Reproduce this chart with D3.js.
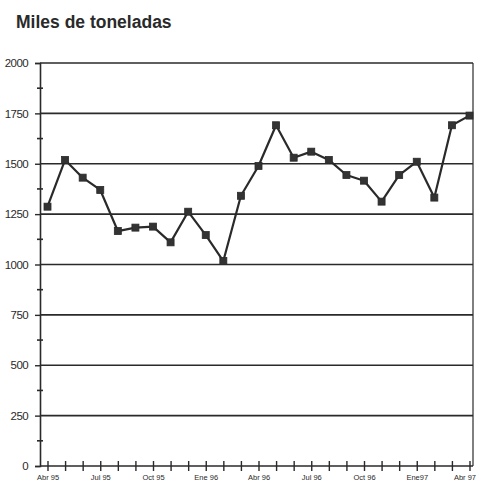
<!DOCTYPE html>
<html><head><meta charset="utf-8">
<script src="https://cdn.jsdelivr.net/npm/d3@7/dist/d3.min.js"></script>
<style>body{margin:0;background:#fff}</style>
</head><body>
<svg id="c" width="477" height="485"></svg>
<script>
const months = ["Abr 95","May 95","Jun 95","Jul 95","Ago 95","Sep 95","Oct 95","Nov 95","Dic 95","Ene 96","Feb 96","Mar 96","Abr 96","May 96","Jun 96","Jul 96","Ago 96","Sep 96","Oct 96","Nov 96","Dic 96","Ene97","Feb 97","Mar 97","Abr 97"];
const values = [1287,1519,1431,1370,1166,1183,1188,1110,1262,1146,1017,1341,1489,1691,1530,1560,1519,1444,1416,1312,1444,1510,1332,1691,1739];
const labeledMonths = ["Abr 95","Jul 95","Oct 95","Ene 96","Abr 96","Jul 96","Oct 96","Ene97","Abr 97"];
const yTicks = [0,250,500,750,1000,1250,1500,1750,2000];
const yMinor = [125,375,625,875,1125,1375,1625,1875];
const title = "Miles de toneladas";

const svg = d3.select("#c");
const ink = "#2a2a2a";
const L = 40, R = 473, T = 63, B = 466;
const x = d3.scalePoint().domain(months).range([47.5, 469.5]);
const y = d3.scaleLinear().domain([0,2000]).range([B, T]);

svg.append("text").attr("x",16).attr("y",28).attr("font-family","Arial, Liberation Sans, sans-serif")
  .attr("font-weight","bold").attr("font-size",17.5).attr("fill",ink).text(title);

// gridlines
svg.append("g").selectAll("line").data(yTicks.filter(d=>d>0)).join("line")
  .attr("x1",L).attr("x2",R).attr("y1",d=>y(d)).attr("y2",d=>y(d))
  .attr("stroke",ink).attr("stroke-width",1.6);
// right frame
svg.append("line").attr("x1",R).attr("x2",R).attr("y1",T).attr("y2",B).attr("stroke",ink).attr("stroke-width",1.2);

// y axis
const ya = svg.append("g").attr("transform",`translate(${L},0)`)
  .call(d3.axisLeft(y).tickValues(yTicks).tickSize(5).tickPadding(7).tickFormat(d3.format("d")));
ya.select(".domain").attr("stroke",ink).attr("stroke-width",1.6);
ya.selectAll(".tick line").attr("stroke",ink).attr("stroke-width",1.4);
ya.selectAll(".tick text").attr("font-family","Arial, Liberation Sans, sans-serif")
  .attr("font-size",11.5).attr("fill",ink).attr("letter-spacing","-0.6");
svg.append("g").selectAll("line").data(yMinor).join("line")
  .attr("x1",L-3).attr("x2",L+3).attr("y1",d=>y(d)).attr("y2",d=>y(d))
  .attr("stroke",ink).attr("stroke-width",1.6);

// x axis
const xa = svg.append("g").attr("transform",`translate(0,${B})`)
  .call(d3.axisBottom(x).tickSizeInner(5).tickSizeOuter(0).tickPadding(2).tickFormat(d=>labeledMonths.includes(d)?d:""));
xa.select(".domain").attr("d",`M${L},0H${R}`).attr("stroke",ink).attr("stroke-width",1.6);
xa.selectAll(".tick line").attr("y1",-5).attr("y2",5).attr("stroke",ink).attr("stroke-width",1.4);
xa.selectAll(".tick text").attr("font-family","Arial Narrow, Liberation Sans Narrow, Liberation Sans, sans-serif")
  .attr("font-size",7.5).attr("fill",ink).attr("dy","0.9em")
  .attr("text-anchor",d=>d===months[months.length-1]?"end":"middle")
  .attr("dx",d=>d===months[months.length-1]?"6":"0");

// line
svg.append("path").datum(values).attr("fill","none").attr("stroke",ink).attr("stroke-width",2.2)
  .attr("stroke-linejoin","round")
  .attr("d",d3.line().x((d,i)=>x(months[i])).y(d=>y(d)));
svg.append("g").selectAll("rect").data(values).join("rect")
  .attr("x",(d,i)=>x(months[i])-3.5).attr("y",d=>y(d)-3.5).attr("width",7).attr("height",7)
  .attr("fill","#333").attr("stroke",ink).attr("stroke-width",0.8);
</script>
</body></html>
